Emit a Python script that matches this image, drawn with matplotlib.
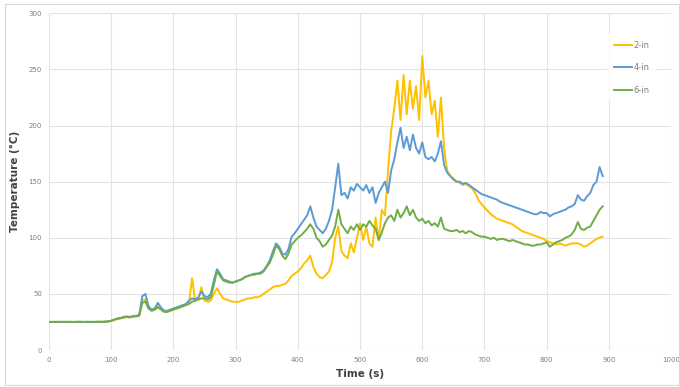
import numpy as np
import matplotlib
matplotlib.use('Agg')
import matplotlib.pyplot as plt
from matplotlib.patches import Rectangle

# time axis (s), one reading every 5 s
time_s = np.arange(0, 891, 5)

temp_2in = [
    25, 25, 25.2, 25, 25, 25.1, 25, 25, 25, 25.2, 25, 25, 25, 25.1, 25, 25, 25.3, 25, 25.2, 25.4,
    26, 27, 27.5, 28, 29, 29.5, 29, 30, 30, 30.5, 44, 45, 37, 35, 36, 39, 37, 34, 34, 35,
    36, 37, 38, 39, 40, 42, 64, 44, 45, 56, 44, 43, 44, 50, 55, 50, 46, 45, 44, 43,
    43, 43, 44, 45, 46, 46, 47, 47, 48, 50, 52, 54, 56, 57, 57, 58, 59, 62, 66, 68,
    70, 73, 77, 80, 84, 74, 68, 65, 64, 67, 70, 78, 100, 110, 88, 84, 82, 95, 87, 100,
    113, 98, 110, 95, 92, 118, 98, 125, 120, 160, 195, 215, 240, 205, 245, 210, 240, 215, 235, 205,
    262, 225, 240, 210, 222, 190, 225, 180, 160, 155, 153, 150, 149, 147, 148, 146, 144, 140, 134, 130,
    127, 124, 121, 119, 117, 116, 115, 114, 113, 112, 110, 108, 106, 105, 104, 103, 102, 101, 100, 99,
    97, 96, 95, 94, 95, 94, 93, 94, 95, 95, 95, 94, 92, 93, 95, 97, 99, 100, 101,
]
temp_4in = [
    25, 25.1, 25, 25, 25.2, 25, 25, 25.1, 25, 25, 25.2, 25, 25, 25, 25.1, 25, 25.2, 25, 25.3, 25.5,
    26, 27, 28, 28.5, 29.5, 30, 29.5, 30, 30.5, 31, 48, 50, 39, 36, 37, 42, 38, 35, 35, 36,
    37, 38, 39, 40, 41, 44, 46, 45, 47, 52, 48, 47, 50, 62, 72, 68, 63, 62, 61, 60,
    61, 62, 63, 65, 66, 67, 68, 68, 69, 71, 75, 80, 88, 95, 92, 86, 85, 90, 101, 104,
    108, 112, 116, 120, 128, 118, 110, 107, 104, 108, 115, 125, 145, 166, 138, 140, 135, 145, 142, 148,
    145, 142, 147, 140, 145, 131, 140, 145, 150, 140, 160, 170, 185, 198, 180, 190, 178, 192, 180, 175,
    185, 172, 170, 172, 168, 175, 186, 165, 158, 155, 152, 150, 150, 148, 149, 147, 145, 143, 141, 139,
    138, 137, 136, 135, 134, 132, 131, 130, 129, 128, 127, 126, 125, 124, 123, 122, 121, 121, 123, 122,
    122, 119, 121, 122, 123, 124, 125, 127, 128, 130, 138, 134, 133, 137, 140, 147, 150, 163, 155,
]
temp_6in = [
    25, 25, 25, 25.1, 25, 25, 25.2, 25, 25, 25.1, 25, 25, 25.2, 25, 25, 25.1, 25, 25.2, 25.2, 25.4,
    26, 27, 28, 28.5, 29, 29.5, 29, 30, 30, 30.5, 42, 43, 37, 35, 36, 38, 36, 34, 34, 35,
    36, 37, 38, 39, 40, 41, 43, 44, 45, 46, 46, 45, 47, 58, 70, 66, 62, 61, 60, 60,
    61, 62, 63, 65, 66, 67, 67, 68, 68, 70, 74, 78, 85, 93, 90, 84, 81, 86, 94, 97,
    100, 102, 105, 108, 112, 108, 100, 97, 92, 94, 98, 102, 110, 125, 112, 108, 104, 110, 107, 112,
    107, 112, 110, 115, 111, 108, 98, 105, 113, 118, 120, 115, 125, 118, 122, 128, 120, 125, 118, 115,
    117, 113, 115, 111, 113, 110, 118, 108, 107, 106, 106, 107, 105, 106, 104, 106, 105, 103, 102, 101,
    101, 100, 99, 100, 98, 99, 99, 98, 97, 98, 97, 96, 95, 94, 94, 93, 93, 94, 94, 95,
    96, 92, 94, 96, 97, 98, 100, 101, 103, 107, 114, 108, 107, 109, 110, 115, 120, 125, 128,
]

series_labels = ['2-in', '4-in', '6-in']
series_colors = ['#FFC000', '#5B9BD5', '#70AD47']

fig = plt.figure(figsize=(6.8, 3.87), dpi=100)
ax = fig.add_axes([0.072, 0.0956, 0.915, 0.870])

for vals, lab, col in zip([temp_2in, temp_4in, temp_6in], series_labels, series_colors):
    ax.plot(time_s, vals, color=col, lw=1.4, label=lab)

ax.set_xlim(0, 1000)
ax.set_ylim(0, 300)
ax.set_xticks(np.arange(0, 1001, 100))
ax.set_yticks(np.arange(0, 301, 50))
ax.grid(True, color='#E3E3E3', lw=0.8)
ax.set_axisbelow(True)
for s in ax.spines.values():
    s.set_visible(False)
ax.tick_params(length=0, labelsize=5, labelcolor='#7F7F7F', pad=5)

ax.set_xlabel('Time (s)', fontsize=7.5, fontweight='bold', color='#404040', labelpad=4)
ax.set_ylabel('Temperature (°C)', fontsize=7.5, fontweight='bold', color='#404040', labelpad=6)

leg = ax.legend(loc='upper right', bbox_to_anchor=(0.983, 0.95), frameon=True,
                fontsize=6, labelcolor='#7F7F7F', handlelength=2.2, handletextpad=0.2,
                labelspacing=1.6, borderpad=0.8)
leg.get_frame().set_edgecolor('none')
leg.get_frame().set_facecolor('white')

fig.patches.append(Rectangle((5 / 680, 2 / 387), 674 / 680, 381 / 387, transform=fig.transFigure,
                             fill=False, edgecolor='#D9D9D9', lw=0.8))

fig.savefig('out.png', dpi=100)
